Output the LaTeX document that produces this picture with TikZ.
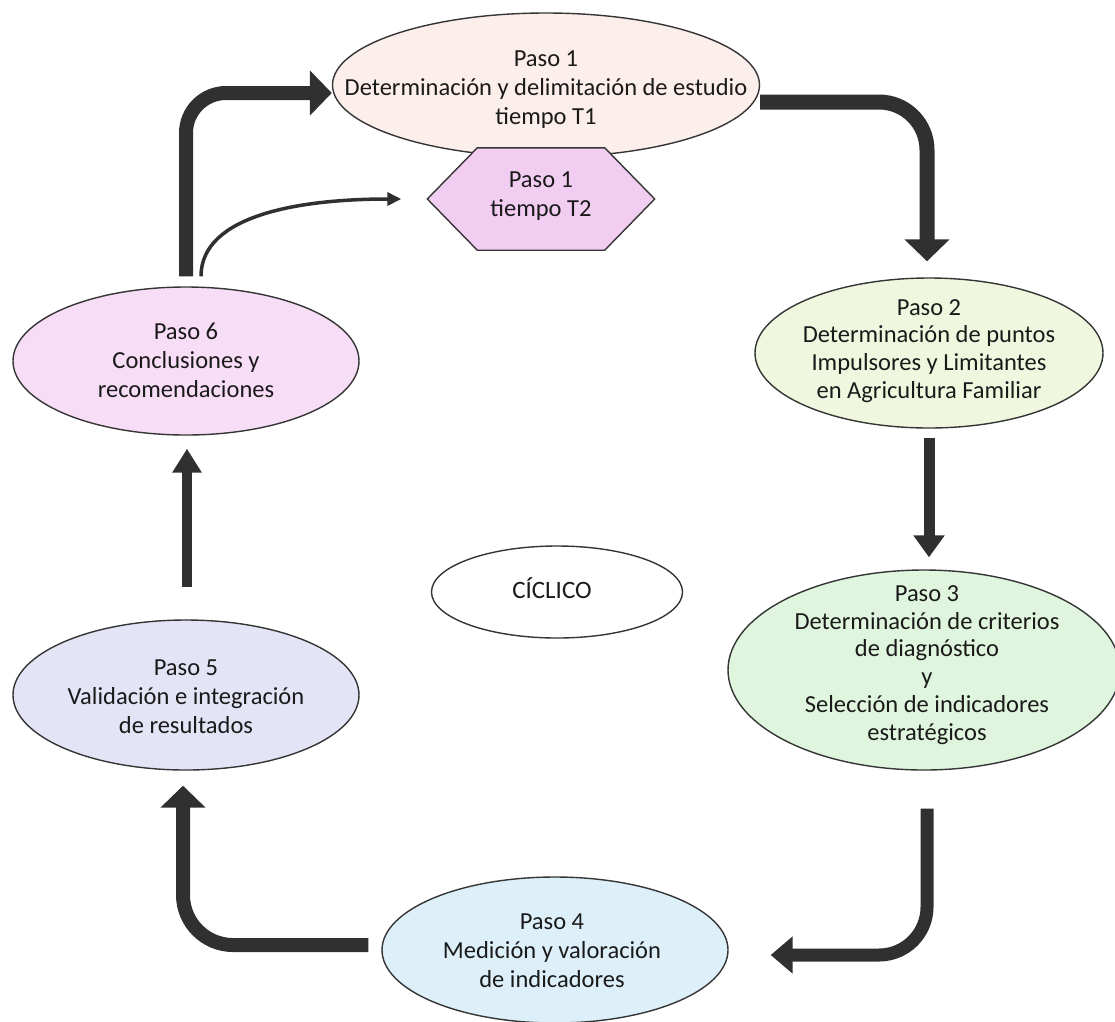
\documentclass[tikz,border=0pt]{standalone}
\usepackage{fontspec}
\setmainfont{Carlito}
\usetikzlibrary{shapes.geometric,arrows.meta}

\definecolor{ink}{HTML}{1A1A1A}
\definecolor{edgec}{HTML}{353535}
\definecolor{arrowc}{HTML}{303030}
\definecolor{fillA}{HTML}{FCEEEA}
\definecolor{fillHex}{HTML}{F2CDF2}
\definecolor{fillB}{HTML}{EFF8DE}
\definecolor{fillC}{HTML}{DFF5DD}
\definecolor{fillD}{HTML}{DDF0FA}
\definecolor{fillE}{HTML}{E4E4F7}
\definecolor{fillF}{HTML}{F8DDF6}

\begin{document}
\begin{tikzpicture}[x=1pt,y=-1pt,
  stepell/.style={ellipse, draw=edgec, line width=1.4pt, inner sep=0pt},
  steptxt/.style={align=center, text=ink, inner sep=0pt,
    font=\fontsize{24.5}{29}\selectfont},
  tightxt/.style={steptxt, font=\fontsize{24.5}{27.8}\selectfont},
  bigarrow/.style={draw=arrowc, line width=14pt, rounded corners=45pt,
    -{Triangle[width=44pt,length=22pt]}},
  medarrow/.style={draw=arrowc, line width=11pt,
    -{Triangle[width=30pt,length=22pt]}},
  thinarrow/.style={draw=arrowc, line width=3.5pt,
    -{Triangle[width=13pt,length=14pt]}}
]
\fill[white] (0,0) rectangle (1115,1021);
\useasboundingbox (0,0) rectangle (1115,1021);

% step outlines
\node[stepell, fill=fillA, minimum width=427pt, minimum height=144pt] (p1) at (546,85) {};
\node[stepell, fill=fillB, minimum width=348pt, minimum height=150pt] (p2) at (929,353) {};
\node[stepell, fill=fillC, minimum width=392pt, minimum height=200pt] (p3) at (924,670) {};
\node[stepell, fill=fillD, minimum width=346pt, minimum height=146pt] (p4) at (555,950) {};
\node[stepell, fill=fillE, minimum width=346pt, minimum height=150pt] (p5) at (186,695) {};
\node[stepell, fill=fillF, minimum width=346pt, minimum height=148pt] (p6) at (186,361) {};
\node[stepell, fill=white, minimum width=251pt, minimum height=92pt] (cyc) at (557,592) {};

% hexagon for the second round of step 1
\node[minimum width=227pt, minimum height=102pt, inner sep=0pt] (hex) at (541,199) {};
\draw[draw=edgec, line width=1.4pt, fill=fillHex, line join=miter]
  (hex.west) -- ([xshift=50pt]hex.north west) -- ([xshift=-50pt]hex.north east)
  -- (hex.east) -- ([xshift=-50pt]hex.south east) -- ([xshift=50pt]hex.south west) -- cycle;

% step texts
\node[steptxt] (p1t) at (546,90) {Paso 1\\Determinación y delimitación de estudio\\tiempo T1};
\node[steptxt] (hext) at (541,196) {Paso 1\\tiempo T2};
\node[tightxt] (p2t) at (929,351) {Paso 2\\Determinación de puntos\\Impulsores y Limitantes\\en Agricultura Familiar};
\node[tightxt] (p3t) at (927,665) {Paso 3\\Determinación de criterios\\de diagnóstico\\y\\Selección de indicadores\\estratégicos};
\node[steptxt] (p4t) at (552,951) {Paso 4\\Medición y valoración\\de indicadores};
\node[steptxt] (p5t) at (186,697) {Paso 5\\Validación e integración\\de resultados};
\node[steptxt] (p6t) at (186,360) {Paso 6\\Conclusiones y\\recomendaciones};
\node[steptxt, font=\fontsize{25}{29}\selectfont] (cyct) at (552,588) {CÍCLICO};

% free ends of the connectors
\coordinate (s61) at ([yshift=10pt]p6.north);
\coordinate (e61) at ([yshift=-8pt]p1.west);
\coordinate (sthin) at ([xshift=15pt,yshift=10pt]p6.north);
\coordinate (ethin) at ([xshift=-26pt]hex.west);
\coordinate (s12) at ([yshift=-17pt]p1.east);
\coordinate (e12) at ([xshift=-2pt,yshift=16pt]p2.north);
\coordinate (s23) at ([yshift=-9pt]p2.south);
\coordinate (e23) at ([yshift=12pt]p3.north);
\coordinate (s34) at ([xshift=3pt,yshift=-38pt]p3.south);
\coordinate (e34) at ([xshift=42pt,yshift=-5pt]p4.east);
\coordinate (s45) at ([xshift=-13pt,yshift=5pt]p4.west);
\coordinate (e45) at ([xshift=-3pt,yshift=-15pt]p5.south);
\coordinate (s56) at ([xshift=1pt,yshift=32pt]p5.north);
\coordinate (e56) at ([xshift=1pt,yshift=-13pt]p6.south);

% connectors
\draw[bigarrow, rounded corners=40pt] (s61) |- (e61);
\draw[thinarrow] (sthin) .. controls (201,215) and (300,199) .. (ethin);
\draw[bigarrow, line width=15pt, rounded corners=48pt] (s12) -| (e12);
\draw[medarrow] (s23) -- (s23 |- e23);
\draw[bigarrow, line width=13pt, rounded corners=48pt,
  -{Triangle[width=36pt,length=22pt]}] (s34) |- (e34);
\draw[bigarrow, rounded corners=50pt] (s45) -| (e45);
\draw[medarrow, line width=10pt, -{Triangle[width=28pt,length=24pt]}] (s56) -- (e56);
\end{tikzpicture}
\end{document}
